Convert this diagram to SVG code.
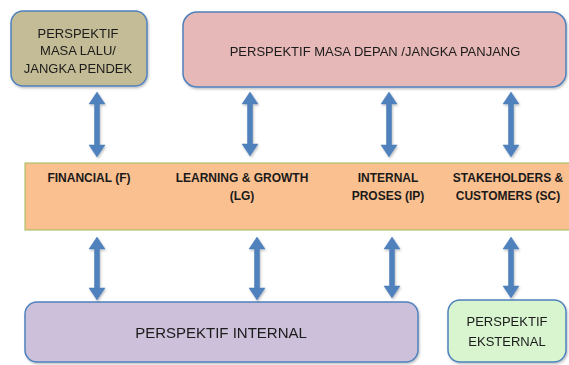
<svg xmlns="http://www.w3.org/2000/svg" width="569" height="365" viewBox="0 0 569 365">
<defs>
<style>
.box{stroke:#4f81bd;stroke-width:1.5}
.t{font-family:"Liberation Sans",Arial,sans-serif;font-size:13px;fill:#1a1a1a;text-anchor:middle}
.b{font-family:"Liberation Sans",Arial,sans-serif;font-size:12px;font-weight:bold;fill:#1a1a1a;text-anchor:middle}
.arr{fill:#4f81bd;stroke:#4a7ab5;stroke-width:0.5}
</style>
<filter id="sh" x="-10%" y="-10%" width="130%" height="130%">
<feDropShadow dx="1" dy="1.5" stdDeviation="1" flood-color="#000" flood-opacity="0.25"/>
</filter>
</defs>
<rect width="569" height="365" fill="#fff"/>
<g id="band">
<rect x="25" y="163" width="550" height="67" fill="#fac090" stroke="#9bbb59" stroke-width="1"/>
<text class="b" x="89" y="182">FINANCIAL (F)</text>
<text class="b" x="242" y="182">LEARNING &amp; GROWTH</text>
<text class="b" x="242" y="200">(LG)</text>
<text class="b" x="388" y="182">INTERNAL</text>
<text class="b" x="388" y="200">PROSES (IP)</text>
<text class="b" x="508" y="182">STAKEHOLDERS &amp;</text>
<text class="b" x="508" y="200">CUSTOMERS (SC)</text>
</g>
<g id="masa-lalu" filter="url(#sh)">
<rect class="box" x="11" y="11" width="136" height="75" rx="12" fill="#c4bc96"/>
<text class="t" x="78" y="38">PERSPEKTIF</text>
<text class="t" x="78" y="55">MASA LALU/</text>
<text class="t" x="78" y="73">JANGKA PENDEK</text>
</g>
<g id="masa-depan" filter="url(#sh)">
<rect class="box" x="183" y="12" width="383" height="75" rx="14" fill="#e6b8b7"/>
<text class="t" x="375" y="56">PERSPEKTIF MASA DEPAN /JANGKA PANJANG</text>
</g>
<g id="internal" filter="url(#sh)">
<rect class="box" x="25" y="302" width="393" height="60" rx="12" fill="#ccc0da"/>
<text class="t" x="221" y="338" style="font-size:15px">PERSPEKTIF INTERNAL</text>
</g>
<g id="eksternal" filter="url(#sh)">
<rect class="box" x="448" y="300" width="118" height="62" rx="12" fill="#d8f5d0"/>
<text class="t" x="507" y="326">PERSPEKTIF</text>
<text class="t" x="507" y="346">EKSTERNAL</text>
</g>
<g id="connectors" filter="url(#sh)">
<path class="arr" d="M97 92 L105 104 L99.5 104 L99.5 145 L105 145 L97 157 L89 145 L94.5 145 L94.5 104 L89 104 Z"/>
<path class="arr" d="M250 92 L258 104 L252.5 104 L252.5 144 L258 144 L250 156 L242 144 L247.5 144 L247.5 104 L242 104 Z"/>
<path class="arr" d="M389 92 L397 104 L391.5 104 L391.5 145 L397 145 L389 157 L381 145 L386.5 145 L386.5 104 L381 104 Z"/>
<path class="arr" d="M511 92 L519 104 L513.5 104 L513.5 145 L519 145 L511 157 L503 145 L508.5 145 L508.5 104 L503 104 Z"/>
<path class="arr" d="M97 237 L105 249 L99.5 249 L99.5 288 L105 288 L97 300 L89 288 L94.5 288 L94.5 249 L89 249 Z"/>
<path class="arr" d="M257 237 L265 249 L259.5 249 L259.5 288 L265 288 L257 300 L249 288 L254.5 288 L254.5 249 L249 249 Z"/>
<path class="arr" d="M392 237 L400 249 L394.5 249 L394.5 286 L400 286 L392 298 L384 286 L389.5 286 L389.5 249 L384 249 Z"/>
<path class="arr" d="M511 237 L519 249 L513.5 249 L513.5 286 L519 286 L511 298 L503 286 L508.5 286 L508.5 249 L503 249 Z"/>
</g>
</svg>
